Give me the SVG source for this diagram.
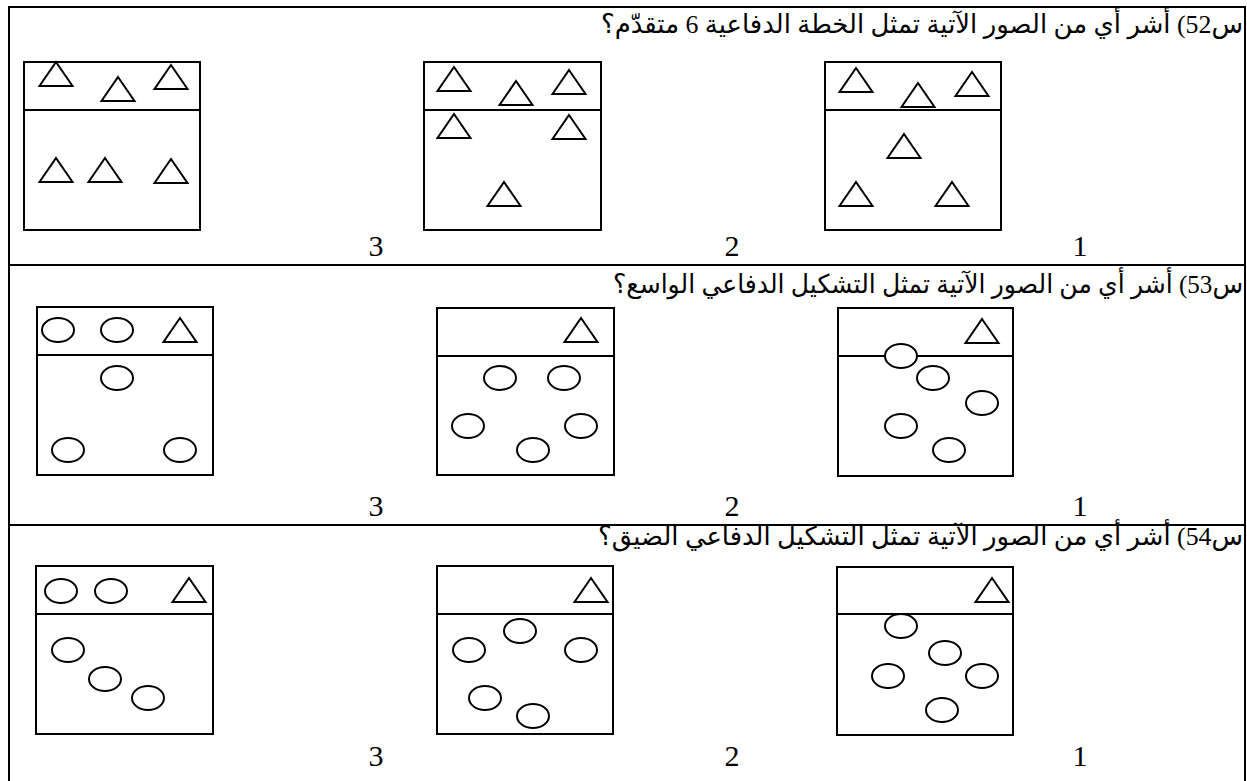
<svg xmlns="http://www.w3.org/2000/svg" xmlns:xlink="http://www.w3.org/1999/xlink" width="1247" height="781" viewBox="0 0 1247 781">
<style>
.grid{stroke:#000;stroke-width:2;fill:none}
.box{stroke:#000;stroke-width:2;fill:#fff}
.div{stroke:#000;stroke-width:2}
.sh{stroke:#000;stroke-width:2;fill:#fff}
.q{font-family:"Liberation Serif","DejaVu Sans",serif;font-size:26px;fill:#000;direction:rtl}
.n{font-family:"Liberation Serif",serif;font-size:30px;fill:#000;text-anchor:middle}
</style>
<defs>
<polygon id="tri" points="0,0 16.5,24 -16.5,24" class="sh"/>
<ellipse id="ov" cx="0" cy="0" rx="16" ry="12" class="sh"/>
</defs>
<rect width="1247" height="781" fill="#fff"/>
<g id="table">
<path class="grid" d="M9,781 V7 H1245 V781 M9,265 H1245 M9,525 H1245"/>
</g>
<g id="q52">
<text class="q" x="1243" y="33" text-anchor="start" textLength="642" lengthAdjust="spacingAndGlyphs">س52) أشر أي من الصور الآتية تمثل الخطة الدفاعية 6 متقدّم؟</text>
<g id="q52-1">
<rect class="box" x="825" y="62" width="176" height="168"/><line class="div" x1="825" y1="110" x2="1001" y2="110"/>
<use xlink:href="#tri" x="856" y="68"/><use xlink:href="#tri" x="918" y="83"/><use xlink:href="#tri" x="972" y="72"/>
<use xlink:href="#tri" x="904" y="134"/><use xlink:href="#tri" x="856" y="182"/><use xlink:href="#tri" x="952" y="182"/>
<text class="n" x="1080" y="256">1</text>
</g>
<g id="q52-2">
<rect class="box" x="424" y="62" width="177" height="168"/><line class="div" x1="424" y1="110" x2="601" y2="110"/>
<use xlink:href="#tri" x="454" y="67"/><use xlink:href="#tri" x="516" y="81"/><use xlink:href="#tri" x="569" y="70"/>
<use xlink:href="#tri" x="454" y="114"/><use xlink:href="#tri" x="569" y="115"/><use xlink:href="#tri" x="504" y="182"/>
<text class="n" x="732" y="256">2</text>
</g>
<g id="q52-3">
<rect class="box" x="24" y="62" width="176" height="168"/><line class="div" x1="24" y1="110" x2="200" y2="110"/>
<use xlink:href="#tri" x="56" y="62"/><use xlink:href="#tri" x="118" y="77"/><use xlink:href="#tri" x="171" y="65"/>
<use xlink:href="#tri" x="56" y="158"/><use xlink:href="#tri" x="105" y="158"/><use xlink:href="#tri" x="171" y="159"/>
<text class="n" x="376" y="256">3</text>
</g>
</g>
<g id="q53">
<text class="q" x="1243" y="293" text-anchor="start" textLength="630" lengthAdjust="spacingAndGlyphs">س53) أشر أي من الصور الآتية تمثل التشكيل الدفاعي الواسع؟</text>
<g id="q53-1">
<rect class="box" x="838" y="308" width="175" height="168"/><line class="div" x1="838" y1="356" x2="1013" y2="356"/>
<use xlink:href="#tri" x="982" y="319"/>
<use xlink:href="#ov" x="901" y="356"/><use xlink:href="#ov" x="933" y="378"/><use xlink:href="#ov" x="982" y="403"/>
<use xlink:href="#ov" x="901" y="426"/><use xlink:href="#ov" x="949" y="450"/>
<text class="n" x="1080" y="516">1</text>
</g>
<g id="q53-2">
<rect class="box" x="437" y="308" width="177" height="167"/><line class="div" x1="437" y1="356" x2="614" y2="356"/>
<use xlink:href="#tri" x="581" y="318"/>
<use xlink:href="#ov" x="500" y="378"/><use xlink:href="#ov" x="564" y="378"/><use xlink:href="#ov" x="468" y="426"/>
<use xlink:href="#ov" x="581" y="426"/><use xlink:href="#ov" x="533" y="450"/>
<text class="n" x="732" y="516">2</text>
</g>
<g id="q53-3">
<rect class="box" x="37" y="307" width="176" height="168"/><line class="div" x1="37" y1="355" x2="213" y2="355"/>
<use xlink:href="#ov" x="58" y="330"/><use xlink:href="#ov" x="117" y="330"/><use xlink:href="#tri" x="180" y="318"/>
<use xlink:href="#ov" x="117" y="378"/><use xlink:href="#ov" x="68" y="450"/><use xlink:href="#ov" x="180" y="450"/>
<text class="n" x="376" y="516">3</text>
</g>
</g>
<g id="q54">
<text class="q" x="1243" y="545" text-anchor="start" textLength="645" lengthAdjust="spacingAndGlyphs">س54) أشر أي من الصور الآتية تمثل التشكيل الدفاعي الضيق؟</text>
<g id="q54-1">
<rect class="box" x="837" y="567" width="176" height="168"/><line class="div" x1="837" y1="614" x2="1013" y2="614"/>
<use xlink:href="#tri" x="992" y="578"/>
<use xlink:href="#ov" x="901" y="626"/><use xlink:href="#ov" x="945" y="653"/><use xlink:href="#ov" x="888" y="676"/>
<use xlink:href="#ov" x="982" y="676"/><use xlink:href="#ov" x="942" y="710"/>
<text class="n" x="1080" y="766">1</text>
</g>
<g id="q54-2">
<rect class="box" x="437" y="566" width="176" height="168"/><line class="div" x1="437" y1="614" x2="613" y2="614"/>
<use xlink:href="#tri" x="591" y="578"/>
<use xlink:href="#ov" x="520" y="631"/><use xlink:href="#ov" x="469" y="650"/><use xlink:href="#ov" x="581" y="650"/>
<use xlink:href="#ov" x="485" y="698"/><use xlink:href="#ov" x="533" y="716"/>
<text class="n" x="732" y="766">2</text>
</g>
<g id="q54-3">
<rect class="box" x="36" y="566" width="177" height="168"/><line class="div" x1="36" y1="614" x2="213" y2="614"/>
<use xlink:href="#ov" x="61" y="591"/><use xlink:href="#ov" x="111" y="591"/><use xlink:href="#tri" x="189" y="578"/>
<use xlink:href="#ov" x="68" y="650"/><use xlink:href="#ov" x="105" y="679"/><use xlink:href="#ov" x="148" y="698"/>
<text class="n" x="376" y="766">3</text>
</g>
</g>
</svg>
